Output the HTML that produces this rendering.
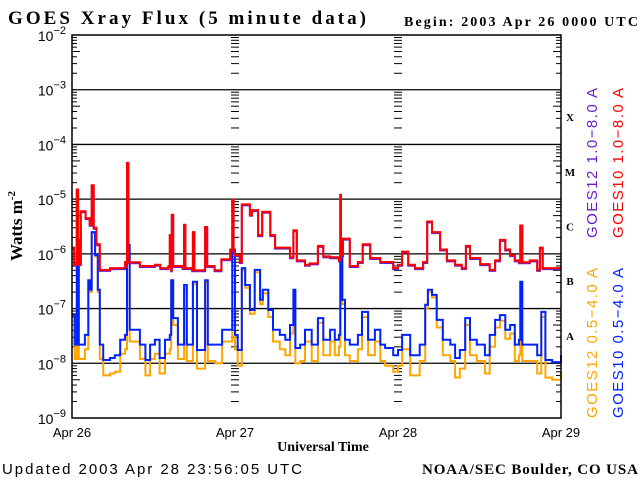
<!DOCTYPE html>
<html><head><meta charset="utf-8"><style>
html,body{margin:0;padding:0;background:#fff;width:640px;height:480px;overflow:hidden}
svg{display:block}
</style></head><body>
<svg id="chart" width="640" height="480" xmlns="http://www.w3.org/2000/svg">
<text x="8" y="24" font-family="Liberation Serif, serif" font-weight="bold" font-size="19" textLength="358">GOES Xray Flux (5 minute data)</text>
<text x="404" y="26" font-family="Liberation Serif, serif" font-weight="bold" font-size="14" textLength="234">Begin:  2003 Apr 26 0000 UTC</text>
<text x="2" y="474" font-family="Liberation Sans, sans-serif" font-size="15" textLength="300">Updated 2003 Apr 28 23:56:05 UTC</text>
<text x="422" y="474" font-family="Liberation Serif, serif" font-weight="bold" font-size="15" textLength="216">NOAA/SEC Boulder, CO USA</text>
<text x="323" y="451" text-anchor="middle" font-family="Liberation Serif, serif" font-weight="bold" font-size="14">Universal Time</text>
<text transform="translate(22,226) rotate(-90)" text-anchor="middle" font-family="Liberation Serif, serif" font-weight="bold" font-size="17">Watts m<tspan dy="-7" font-size="11">-2</tspan></text>
<g id="legend" font-family="Liberation Sans, sans-serif" font-size="15">
<text transform="translate(597,238) rotate(-90)" fill="#6a1fc8" textLength="150">GOES12 1.0−8.0 A</text>
<text transform="translate(623,238) rotate(-90)" fill="#ff0000" textLength="150">GOES10 1.0−8.0 A</text>
<text transform="translate(597,418) rotate(-90)" fill="#ffa500" textLength="150">GOES12 0.5−4.0 A</text>
<text transform="translate(623,418) rotate(-90)" fill="#0022ff" textLength="150">GOES10 0.5−4.0 A</text>
</g>
<g id="axes"></g>
<g id="series"></g>
<rect x="72" y="35" width="489" height="383" fill="none" stroke="#000" stroke-width="1.5"/>
</svg>
<script>
const yExps = [-9,-8,-7,-6,-5,-4,-3,-2];
const dayLabels = ["Apr 26","Apr 27","Apr 28","Apr 29"];
const classLabels = ["A","B","C","M","X"];
const classExps = [-7.5,-6.5,-5.5,-4.5,-3.5];

const redHours = [0,0.3,0.6,0.7,0.9,1.3,2.0,2.6,2.9,3.2,3.6,4.1,5.6,7.1,7.8,8.0,8.1,8.3,10,12.2,13,14.2,14.4,14.6,14.7,14.9,16.3,16.5,16.7,17.7,17.8,18,19.5,19.6,19.9,21,22,23.3,23.6,23.8,24,24.7,25.0,26.2,26.5,27.4,28,29.2,29.9,31.1,32.1,32.6,33.1,34.3,35.0,36.2,37.0,38.0,39.3,39.5,39.6,39.9,40.9,42.1,42.8,43.9,45.4,47.3,48,48.6,49.5,50.5,51.7,52.3,53.0,54.2,55.2,56.4,57.4,58.0,58.6,60.1,61.5,62.3,63.0,63.8,64.5,65.2,65.8,66.0,66.3,67.4,68.5,68.9,69.3,70.4,72];
const redFlux = [1.3e-6,6.3e-7,7e-7,1.5e-5,6.5e-7,6e-6,4.5e-6,3.4e-6,1.8e-5,3e-6,1.5e-6,5.1e-7,5.5e-7,5.5e-7,7.1e-7,6e-7,4.6e-5,7e-7,6e-7,6.3e-7,5.5e-7,6e-7,2.2e-6,5e-7,5.2e-6,6e-7,5.5e-7,3.4e-6,5.5e-7,5e-7,2.5e-6,5e-7,5e-7,3.1e-6,6e-7,5e-7,8e-7,1.2e-6,9.7e-6,1.1e-6,9.5e-7,7.1e-7,8e-6,5.2e-6,6.3e-6,2.2e-6,5.9e-6,2.2e-6,1.3e-6,1.3e-6,8.7e-7,2.7e-6,7.6e-7,6.3e-7,6.7e-7,1.4e-6,9e-7,8.7e-7,7.6e-7,1.2e-5,9.5e-7,1.9e-6,6e-7,7.1e-7,1.5e-6,8.4e-7,7.1e-7,5.5e-7,6.3e-7,1.1e-6,6.3e-7,5.5e-7,7.1e-7,3.9e-6,2.5e-6,1.2e-6,7.6e-7,6.3e-7,5.5e-7,1.4e-6,8.4e-7,6.5e-7,5.1e-7,7.6e-7,1.8e-6,1.2e-6,9.5e-7,7.6e-7,7e-7,3.3e-6,7e-7,7.6e-7,5.1e-7,1.3e-6,5.5e-7,5.5e-7,5.5e-7];

const blueHours = [0,0.4,0.7,1.0,1.9,2.4,2.6,2.9,3.4,3.8,4.1,4.6,5.6,6.3,7.1,7.8,8.1,8.5,10,10.8,11.5,12.2,12.9,13.7,14.4,14.6,14.9,15.6,16.5,16.9,17.8,18.4,19.6,20.0,21.1,22.1,23.3,23.6,24.0,24.4,25.0,25.5,26.2,26.9,27.7,28.1,28.9,29.6,30.6,31.4,32.1,32.6,32.9,33.6,34.3,35.3,36.2,37.0,38.0,38.7,39.3,39.5,39.8,40.2,40.9,42.1,42.7,43.6,44.6,45.4,46.1,47.3,48.0,48.6,49.8,51.2,52.0,52.4,53.0,53.7,54.6,55.7,56.4,57.1,57.9,58.6,59.6,60.8,61.5,62.3,63.0,63.8,64.5,65.2,65.8,66.0,66.3,67.4,68.5,69.1,69.7,70.7,72];
const blueFlux = [7.6e-8,2.2e-8,1.8e-6,2.2e-8,3.3e-8,3.3e-7,2.2e-7,2.5e-6,9.5e-7,2.2e-7,2.2e-8,1.15e-8,1.25e-8,1.4e-8,2.7e-8,3.3e-8,1.45e-6,4.1e-8,2.2e-8,1.15e-8,2.2e-8,2.7e-8,1.25e-8,2.7e-8,3.3e-8,3.3e-7,6.7e-8,2.2e-8,2.7e-7,2.2e-8,3.1e-7,1.75e-8,3.3e-7,2.2e-8,2.2e-8,4.1e-8,4.1e-8,1.2e-6,3.3e-8,1.75e-8,5.5e-7,2.7e-7,9.4e-8,5.1e-7,1.45e-7,2.2e-7,9.4e-8,4.1e-8,3.3e-8,2.7e-8,5e-8,2.2e-7,1.9e-8,2.2e-8,4.1e-8,2.2e-8,6.7e-8,2.7e-8,4.1e-8,2.7e-8,3.3e-8,1.45e-6,1.45e-7,2.7e-8,2.2e-8,3.3e-8,8.7e-8,2.7e-8,4.1e-8,2.2e-8,1.9e-8,1.4e-8,1.75e-8,3.3e-8,1.4e-8,2.2e-8,1.17e-7,2.2e-7,1.78e-7,6.2e-8,2.7e-8,2.2e-8,1.25e-8,1.75e-8,6.7e-8,2.7e-8,2.2e-8,1.4e-8,3.3e-8,6.2e-8,7.6e-8,4.1e-8,5e-8,2.2e-8,2.7e-8,3.1e-7,2.2e-8,2.2e-8,1.4e-8,8.7e-8,1.15e-8,1.05e-8,1.4e-8];
const orangeFlux = [6e-8,1.2e-8,1.7e-6,1.2e-8,1.8e-8,3e-7,2e-7,2.4e-6,9e-7,2e-7,1.2e-8,6e-9,6.5e-9,7e-9,1.5e-8,1.8e-8,1.4e-6,2.5e-8,1.2e-8,6e-9,1.2e-8,1.5e-8,6.5e-9,1.5e-8,1.8e-8,3e-7,5e-8,1.2e-8,2.4e-7,1.1e-8,2.8e-7,8e-9,3e-7,1.1e-8,1e-8,2.5e-8,2.5e-8,1.1e-6,1.8e-8,9e-9,5e-7,2.4e-7,8e-8,4.6e-7,1.2e-7,1.9e-7,7e-8,2.5e-8,1.8e-8,1.4e-8,3.5e-8,2e-7,1e-8,1.1e-8,2.5e-8,1.1e-8,5.5e-8,1.4e-8,2.5e-8,1.4e-8,2e-8,1.4e-6,1.2e-7,1.4e-8,1.1e-8,1.8e-8,7e-8,1.4e-8,2.5e-8,1.1e-8,9e-9,7e-9,9e-9,1.8e-8,6e-9,1.1e-8,1e-7,2e-7,1.6e-7,4.5e-8,1.4e-8,1.1e-8,5.5e-9,8e-9,5e-8,1.4e-8,1.1e-8,6.5e-9,2e-8,4.5e-8,6e-8,2.8e-8,3.5e-8,1.1e-8,1.4e-8,2.9e-7,1.1e-8,1.1e-8,6.5e-9,7e-8,5.5e-9,5e-9,7e-9];

const X0=72, X1=561, Y0=418, Y1=35, HOURS=72;
function xs(h){return X0 + (h/HOURS)*(X1-X0);}
function ys(v){return Y0 - (Math.log10(v)+9)/7*(Y0-Y1);}
const NS="http://www.w3.org/2000/svg";
function el(tag,attrs,parent){const e=document.createElementNS(NS,tag);for(const k in attrs)e.setAttribute(k,attrs[k]);parent.appendChild(e);return e;}
const axes=document.getElementById('axes');
const series=document.getElementById('series');

yExps.forEach(function(ex){
  const y=ys(Math.pow(10,ex));
  if(ex>-9 && ex<-2){
    const g=el('line',{x1:X0,x2:X1,y1:y,y2:y,stroke:'#000','stroke-width':1.3},axes);
    
    
  }
  const t=el('text',{x:X0-6,y:y+6,'text-anchor':'end','font-family':'Liberation Sans, sans-serif','font-size':14},axes);
  
  
  t.textContent='10';
  const s=el('tspan',{dy:-7,'font-size':11},t); s.textContent=String.fromCharCode(8722)+Math.abs(ex);
  if(ex<-2){
    for(let m=2;m<=9;m++){
      const yy=ys(m*Math.pow(10,ex));
      const len=(m===5)?8:5;
      [X0,X1].forEach(function(xb){
        const tk=el('line',{x1:xb,x2:xb===X0?xb+len:xb-len,y1:yy,y2:yy,stroke:'#000','stroke-width':1},axes);
        
        
      });
      [1,2].forEach(function(d){
        const xd=xs(d*24);
        const tk=el('line',{x1:xd-4,x2:xd+4,y1:yy,y2:yy,stroke:'#000','stroke-width':1},axes);
        
        
      });
    }
  }
});
dayLabels.forEach(function(lab,i){
  const x=xs(i*24);
  const t=el('text',{x:x,y:437,'text-anchor':'middle','font-family':'Liberation Sans, sans-serif','font-size':13},axes);
  
  
  t.textContent=lab;
});
classLabels.forEach(function(c,i){
  const t=el('text',{x:570,y:ys(Math.pow(10,classExps[i]))+4,'text-anchor':'middle','font-family':'Liberation Serif, serif','font-weight':'bold','font-size':11},axes);
  
  
  t.textContent=c;
});
function stepPath(hours,vals){
  let d='';
  let py=0;
  for(let i=0;i<hours.length;i++){
    const x=xs(hours[i]).toFixed(1), y=ys(vals[i]).toFixed(1);
    if(i===0) d+='M'+x+','+y;
    else d+='L'+x+','+py+'L'+x+','+y;
    py=y;
  }
  return d;
}
const pOrange=el('path',{d:stepPath(blueHours,orangeFlux),fill:'none',stroke:'#ffa500','stroke-width':2},series);


const pBlue=el('path',{d:stepPath(blueHours,blueFlux),fill:'none',stroke:'#0022ff','stroke-width':2},series);


const pPurple=el('path',{d:stepPath(redHours,redFlux),fill:'none',stroke:'#6a1fc8','stroke-width':2,transform:'translate(0,1)'},series);


const pRed=el('path',{d:stepPath(redHours,redFlux),fill:'none',stroke:'#ff0000','stroke-width':2},series);


</script>
</body></html>
